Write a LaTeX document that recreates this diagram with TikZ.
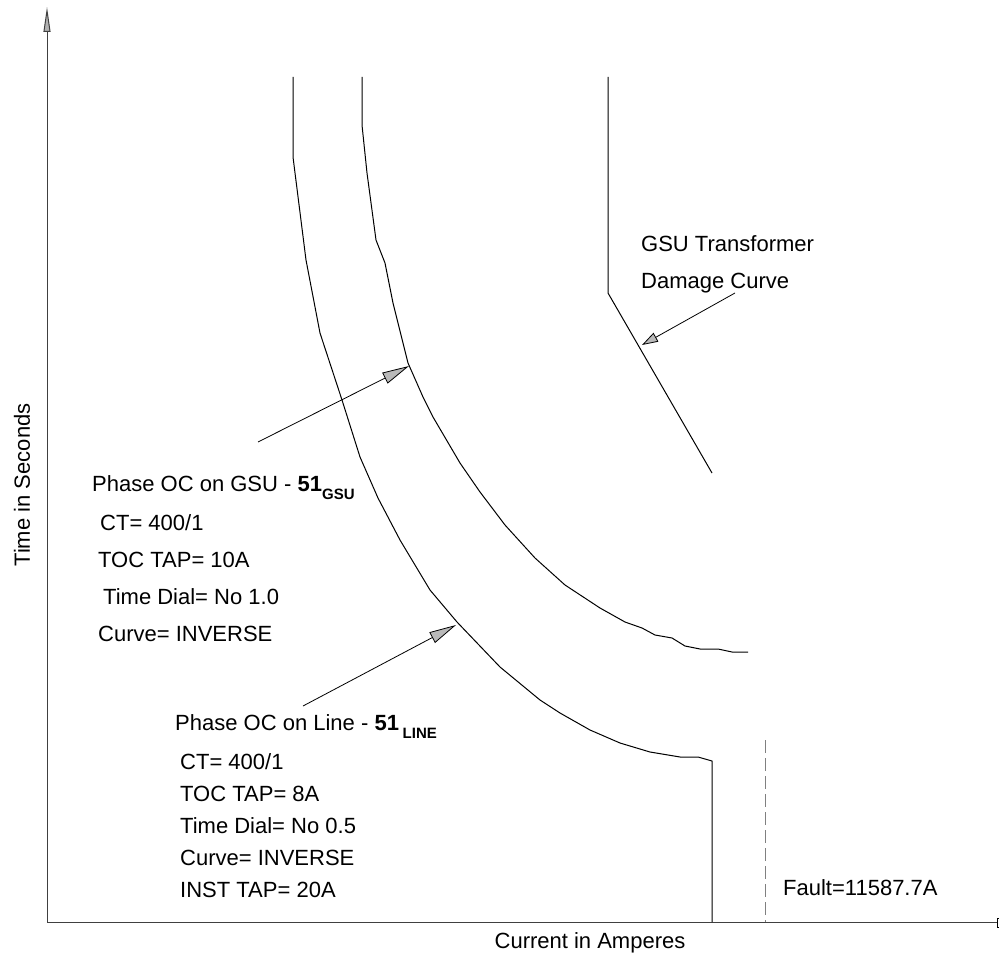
\documentclass[tikz,border=0pt]{standalone}
\usepackage{fontspec}
\setmainfont{Liberation Sans}
\usetikzlibrary{arrows.meta}
\tikzset{
  lbl/.style={anchor=base west,inner sep=0pt,font=\fontsize{22}{26}\selectfont},
  curve/.style={line width=1pt,line join=round},
  pointer/.style={line width=0.8pt,-{Triangle[length=27pt,width=12pt,fill=gray!55]}},
  shortpointer/.style={line width=0.8pt,-{Triangle[length=16pt,width=10pt,fill=gray!55]}},
  axis/.style={line width=1pt,black!75}
}
\newcommand{\sub}[1]{\raisebox{-8pt}{\fontsize{15}{15}\selectfont\bfseries #1}}
\begin{document}
\begin{tikzpicture}[x=1pt,y=-1pt]
                \useasboundingbox (0,0) rectangle (999,958);
                \coordinate (O) at (47,922);
                \coordinate (ytop) at (47,7);
                \coordinate (xend) at (997,922);
                \draw[axis,-{Triangle[length=25pt,width=7pt,fill=gray!60]}] (O)--(ytop);
                \draw[axis] (O)--(xend);
                \draw[line width=0.8pt] (xend) ++(0,-4) rectangle ++(6,9);
                \node[lbl,anchor=center,rotate=90] (ylab) at (22,485) {Time in Seconds};
                \node[lbl,anchor=center] (xlab) at (590,943) {Current in Amperes};
                \draw[curve] (293,77)--(293,157)--(306,260)--(320,333)--(342,400)--(360,457)
                    --(378,498)--(400,540)--(430,590)--(457,622)--(500,667)--(540,700)
                    --(560,713)--(590,730)--(620,743)--(650,752)--(680,757)--(698,757)
                    --(712,761)--(712,922);
                \draw[curve] (362,77)--(362,125)--(367,173)--(376,240)--(385,263)--(393,303)
                    --(408,363)--(423,397)--(433,417)--(460,463)--(480,492)--(505,525)
                    --(535,558)--(565,585)--(600,608)--(625,622)--(642,628)--(655,635)
                    --(672,638)--(685,646)--(700,649)--(718,649)--(732,652)--(748,652);
                \draw[curve] (608,77)--(608,293)--(712,473);
                \draw[line width=1pt,gray,dash pattern=on 13pt off 5pt] (765,740)--(765,922);
                \coordinate (gsutail) at (258,442);
                \coordinate (gsutip) at (409,366);
                \coordinate (linetail) at (303,706);
                \coordinate (linetip) at (456,625);
                \coordinate (dmgtail) at (735,293);
                \coordinate (dmgtip) at (642,345);
                \draw[pointer] (gsutail)--(gsutip);
                \draw[pointer] (linetail)--(linetip);
                \draw[shortpointer] (dmgtail)--(dmgtip);
                \node[lbl] (dmg1) at (641,251) {GSU Transformer};
                \node[lbl] (dmg2) at (641,288) {Damage Curve};
                \node[lbl] (gsu1) at (92,491) {Phase OC on GSU - \textbf{51}\sub{GSU}};
                \node[lbl] (gsu2) at (100,530) {CT= 400/1};
                \node[lbl] (gsu3) at (98,567) {TOC TAP= 10A};
                \node[lbl] (gsu4) at (103,604) {Time Dial= No 1.0};
                \node[lbl] (gsu5) at (98,641) {Curve= INVERSE};
                \node[lbl] (line1) at (175,730) {Phase OC on Line - \textbf{51}\,\sub{LINE}};
                \node[lbl] (line2) at (180,769) {CT= 400/1};
                \node[lbl] (line3) at (180,801) {TOC TAP= 8A};
                \node[lbl] (line4) at (180,833) {Time Dial= No 0.5};
                \node[lbl] (line5) at (180,865) {Curve= INVERSE};
                \node[lbl] (line6) at (180,897) {INST TAP= 20A};
                \node[lbl] (fault) at (783,895) {Fault=11587.7A};
            \end{tikzpicture}
\end{document}
